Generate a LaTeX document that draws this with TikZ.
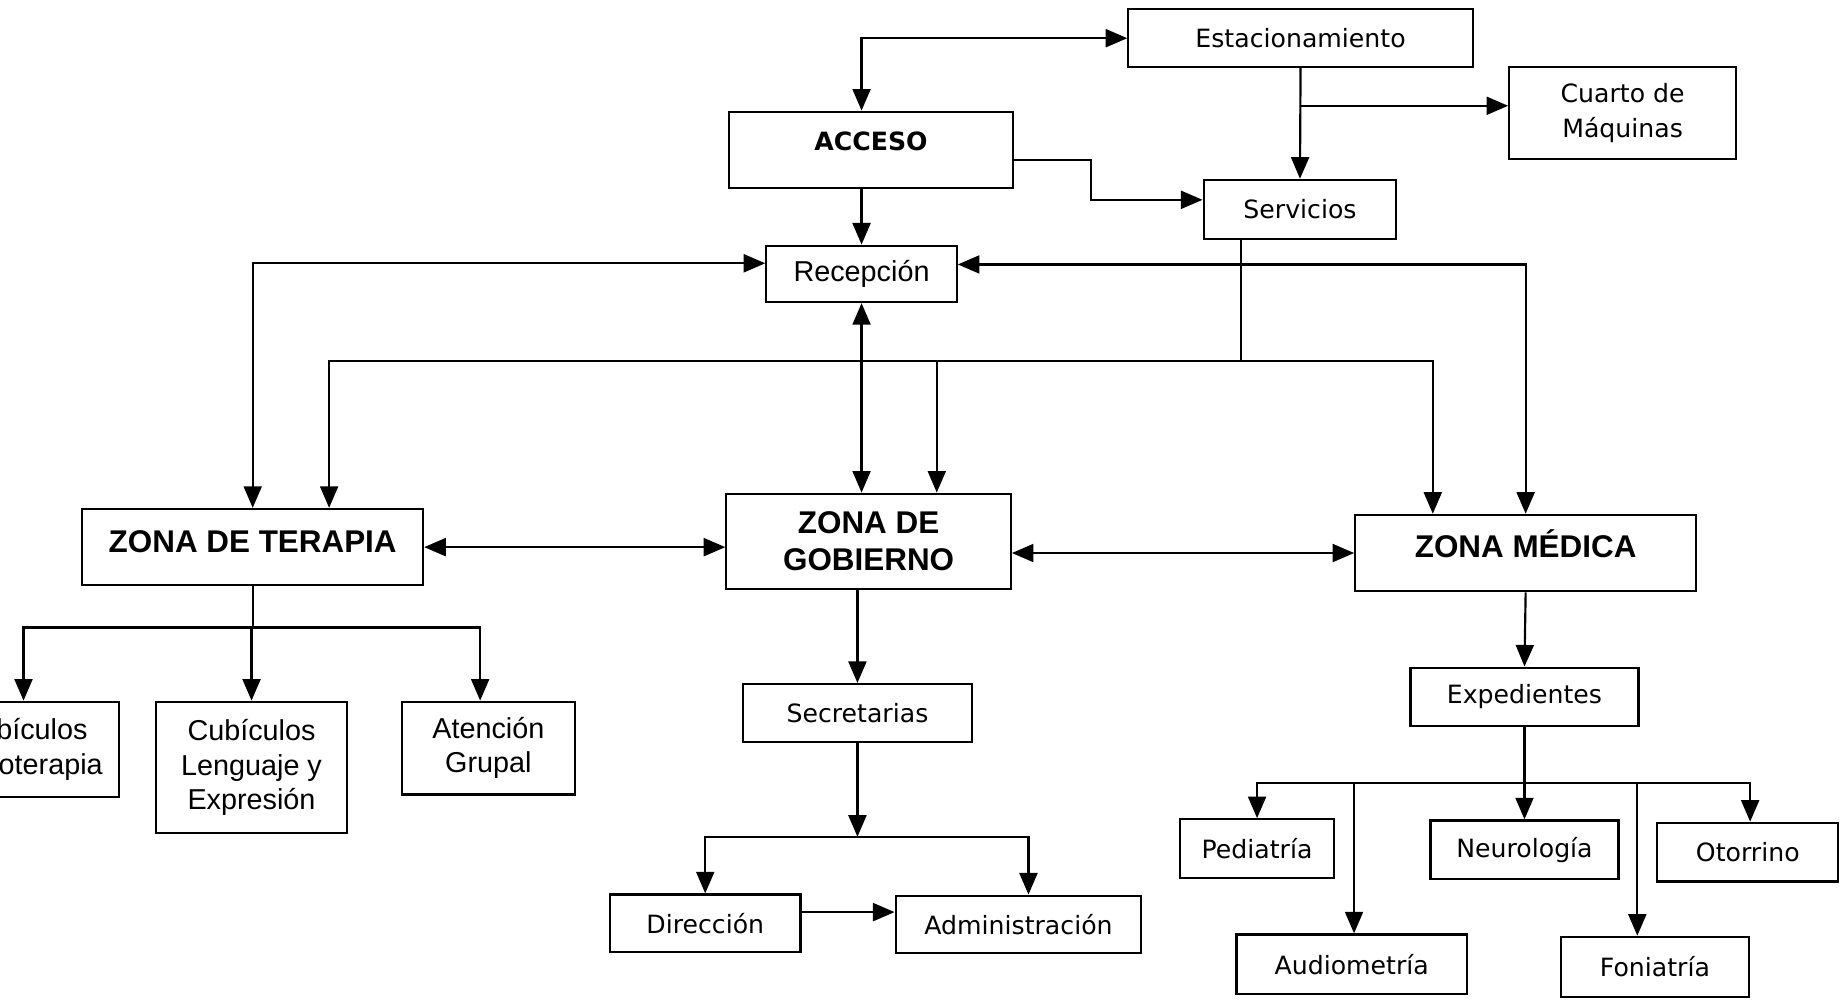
\documentclass[tikz,border=0pt]{standalone}
\usepackage{fontspec}
\setmainfont{DejaVu Sans}
\newfontfamily\arialf{Liberation Sans}
\usetikzlibrary{calc,arrows.meta}
\newcommand{\px}{0.01722cm}

\begin{document}
\begin{tikzpicture}[x=\px, y=-\px, line width=0.9pt,
    >={Triangle[length=9pt,width=7.5pt]},
    box/.style={draw, inner sep=0pt, align=center,
      font=\fontsize{10.5}{14.5}\selectfont},
    zone/.style={box, font=\arialf\bfseries\fontsize{13.1}{15.2}\selectfont},
    arialbox/.style={box, font=\arialf\fontsize{12}{14.3}\selectfont},
    wh/.style 2 args={minimum width=#1*\px, minimum height=#2*\px}]
    \clip (0,0) rectangle (1568,852.5);

    % upper part
    \node[box, wh={293}{49}] (est) at (1106.5,32.5) {Estacionamiento};
    \node[box, wh={193}{78}] (cuarto) at (1380.5,96) {Cuarto de\\Máquinas};
    \node[box, wh={242}{65}, font=\bfseries\fontsize{10.5}{12}\selectfont,
      text height=7.6pt, text depth=7.3pt] (acceso) at (741,127.5) {ACCESO};
    \node[box, wh={164}{50}] (serv) at (1106,178) {Servicios};
    \node[arialbox, wh={162}{48}] (recep) at (733,233) {Recepción};

    % zonas
    \node[zone, wh={290}{65}, text height=9.4pt, text depth=5.2pt] (terapia) at (215,465.5) {ZONA DE TERAPIA};
    \node[zone, wh={242}{81}] (gobierno) at (739,460.5) {ZONA DE\\GOBIERNO};
    \node[zone, wh={290}{65}, text height=9.4pt, text depth=5.6pt] (medica) at (1298,470.5) {ZONA MÉDICA};

    % zona de terapia
    \node[arialbox, wh={162}{81}] (psico) at (20,637.5) {Cubículos\\Psicoterapia};
    \node[arialbox, wh={162}{112}] (lenguaje) at (214,653) {Cubículos\\Lenguaje y\\Expresión};
    \node[arialbox, wh={147}{79}] (grupal) at (415.5,636.5) {Atención\\Grupal};

    % zona de gobierno
    \node[box, wh={195}{49}] (secre) at (729.5,606.5) {Secretarias};
    \node[box, wh={162}{49}] (direc) at (600,785.5) {Dirección};
    \node[box, wh={209}{49}] (admin) at (866.5,786.5) {Administración};

    % zona medica
    \node[box, wh={194}{50}] (exped) at (1297,593) {Expedientes};
    \node[box, wh={131}{50}] (pedia) at (1069.5,722) {Pediatría};
    \node[box, wh={160}{50}] (neuro) at (1297,723) {Neurología};
    \node[box, wh={154}{50}] (otorr) at (1487,725) {Otorrino};
    \node[box, wh={196}{51}] (audio) at (1150,820.5) {Audiometría};
    \node[box, wh={160}{51}] (fonia) at (1408,822.5) {Foniatría};

    % connectors
    \draw[<->] (est.west) -| (recep.north |- acceso.north);
    \draw[->] (est.south) -- (serv.north);
    \coordinate (cm) at ([yshift=6*\px]cuarto.west);
    \draw[->] (est.south |- cm) -- (cm);
    \draw[->] ([yshift=-8.5*\px]acceso.east) -- ++(65,0) |- ([yshift=8*\px]serv.west);
    \draw[->] (recep.north |- acceso.south) -- (recep.north);

    \draw[<->] ([yshift=9*\px]recep.west) -| (terapia.north);
    \draw[<->] ([yshift=8*\px]recep.east) -| (medica.north);
    \draw[<->] (recep.south) -- (recep.south |- gobierno.north);

    \draw ([xshift=-50*\px]serv.south) -- ++(0,103) coordinate (sv);
    \draw[->] (sv) -| ([xshift=65*\px]terapia.north);
    \draw[->] (sv) -| ([xshift=58*\px]gobierno.north);
    \draw[->] (sv) -| ([xshift=-79*\px]medica.north);

    \draw[<->] (terapia.east) -- (terapia.east -| gobierno.west);
    \draw[<->] (gobierno.east |- medica.west) -- (medica.west);

    \draw (terapia.south) -- ++(0,35) coordinate (tb);
    \foreach \n/\dx in {psico/0,lenguaje/0,grupal/-7}
      \draw[->] (tb) -| ([xshift=\dx*\px]\n.north);

    \draw[->] (secre.north |- gobierno.south) -- (secre.north);
    \draw[->] (secre.south) -- ++(0,80) coordinate (sb);
    \draw[->] (sb) -| (direc.north);
    \draw[->] (sb) -| ([xshift=8.5*\px]admin.north);
    \draw[->] ([yshift=9.5*\px]direc.east) -- ([yshift=9.5*\px]direc.east -| admin.west);

    \draw[->] (medica.south) -- (exped.north);
    \draw (exped.south) -- ++(0,47) coordinate (eb);
    \foreach \n/\dx in {pedia/0,audio/2,neuro/0,fonia/-15,otorr/2}
      \draw[->] (eb) -| ([xshift=\dx*\px]\n.north);
  \end{tikzpicture}
\end{document}
